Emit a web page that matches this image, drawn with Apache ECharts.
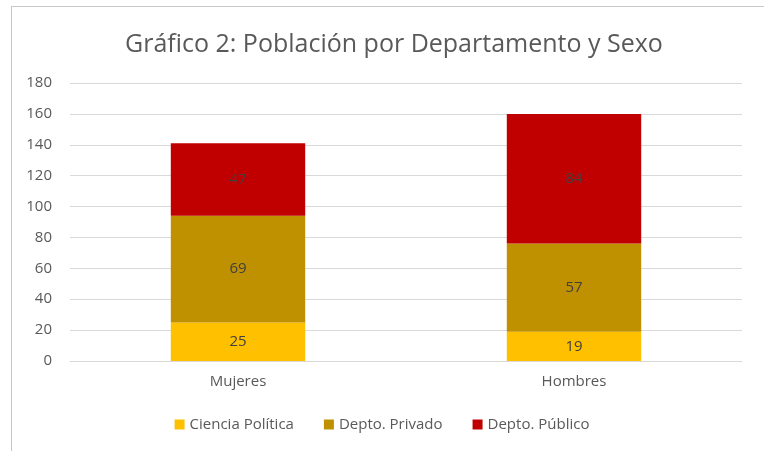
<!DOCTYPE html>
<html>
<head>
<meta charset="utf-8">
<script src="https://cdn.jsdelivr.net/npm/echarts@6/dist/echarts.min.js"></script>
<style>
  html, body { margin: 0; padding: 0; background: #fff; }
  #frame { position: absolute; left: 11px; top: 6px; width: 753px; height: 445px;
           border-top: 1px solid #c8c8c8; border-left: 1px solid #c8c8c8; }
  #grafica { position: absolute; left: 0; top: 0; width: 764px; height: 451px; }
</style>
</head>
<body>
<div id="frame"></div>
<div id="grafica"></div>
<script>
const categorias = ["Mujeres", "Hombres"];
const cienciaPolitica = [25, 19];
const deptoPrivado = [69, 57];
const deptoPublico = [47, 84];
const colores = ["#FFC000", "#BF9000", "#C00000"];
const fuente = "'Open Sans', 'Noto Sans', sans-serif";

const etiqueta = {
  show: true,
  position: "inside",
  color: "#404040",
  fontSize: 15,
  fontFamily: fuente
};

const myChart = echarts.init(document.getElementById("grafica"));
myChart.setOption({
  animation: false,
  title: {
    text: "Gráfico 2: Población por Departamento y Sexo",
    left: 120,
    top: 27,
    textStyle: { color: "#595959", fontSize: 25, fontWeight: "normal", fontFamily: fuente }
  },
  legend: {
    bottom: 14,
    left: "center",
    itemWidth: 10,
    itemHeight: 10,
    itemGap: 30,
    icon: "rect",
    textStyle: { color: "#595959", fontSize: 15, fontFamily: fuente },
    data: ["Ciencia Política", "Depto. Privado", "Depto. Público"]
  },
  grid: { left: 70, right: 22, top: 83, bottom: 90 },
  xAxis: {
    type: "category",
    data: categorias,
    axisLine: { lineStyle: { color: "#d9d9d9" } },
    axisTick: { show: false },
    axisLabel: { color: "#595959", fontSize: 15, fontFamily: fuente, margin: 13 }
  },
  yAxis: {
    type: "value",
    min: 0,
    max: 180,
    interval: 20,
    axisLine: { show: false },
    axisTick: { show: false },
    splitLine: { lineStyle: { color: "#d9d9d9" } },
    axisLabel: { color: "#595959", fontSize: 15, fontFamily: fuente, margin: 18 }
  },
  series: [
    { name: "Ciencia Política", type: "bar", stack: "total", barWidth: "40%",
      itemStyle: { color: colores[0] }, label: etiqueta, data: cienciaPolitica },
    { name: "Depto. Privado", type: "bar", stack: "total",
      itemStyle: { color: colores[1] }, label: etiqueta, data: deptoPrivado },
    { name: "Depto. Público", type: "bar", stack: "total",
      itemStyle: { color: colores[2] }, label: etiqueta, data: deptoPublico }
  ]
});
</script>
</body>
</html>
